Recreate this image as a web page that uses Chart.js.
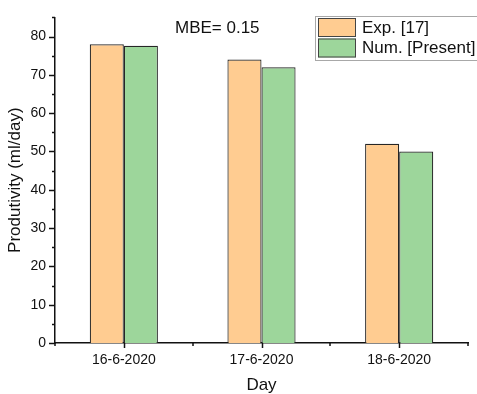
<!DOCTYPE html>
<html>
<head>
<meta charset="utf-8">
<script src="https://cdn.jsdelivr.net/npm/chart.js@4/dist/chart.umd.min.js"></script>
<style>
  html, body { margin: 0; padding: 0; background: #fff; }
  #wrap { width: 477px; height: 394px; position: relative; }
</style>
</head>
<body>
<div id="wrap"><canvas id="c" width="477" height="394"></canvas></div>
<script>
// Daily productivity: experimental vs. numerical results
const days = ['16-6-2020', '17-6-2020', '18-6-2020'];
const expValues = [78, 74, 52];
const numValues = [77.6, 72, 50];
const seriesNames = ['Exp. [17]', 'Num. [Present]'];
const yTickValues = [0, 10, 20, 30, 40, 50, 60, 70, 80];
const annotationText = 'MBE= 0.15';

const FONT = '"Liberation Sans", Arial, sans-serif';
const ORANGE = '#FFCC91';
const GREEN = '#9DD69B';
const EDGE = '#262626';
const AXIS = '#111';

// Axis tick marks (major + minor) and the boxed legend / annotation
const decorations = {
  id: 'decorations',
  afterDraw(chart) {
    const ctx = chart.ctx;
    const x = chart.scales.x, y = chart.scales.y;
    const area = chart.chartArea;
    ctx.save();
    ctx.strokeStyle = AXIS;
    ctx.lineWidth = 1.5;
    // y ticks: major every 10, minor every 5, pointing outward
    for (let v = 0; v <= y.max; v += 5) {
      const py = Math.round(y.getPixelForValue(v)) + 0.5;
      const len = v % 10 === 0 ? 6 : 3;
      ctx.beginPath();
      ctx.moveTo(area.left, py);
      ctx.lineTo(area.left - len, py);
      ctx.stroke();
    }
    // x ticks: major at category centres, minor at category boundaries
    const n = days.length;
    for (let i = 0; i < n; i++) {
      const px = Math.round(x.getPixelForValue(i)) + 0.5;
      ctx.beginPath();
      ctx.moveTo(px, area.bottom);
      ctx.lineTo(px, area.bottom + 5);
      ctx.stroke();
    }
    for (let i = 0; i <= n; i++) {
      const px = Math.round(x.getPixelForValue(i - 0.5));
      ctx.beginPath();
      ctx.moveTo(px, area.bottom);
      ctx.lineTo(px, area.bottom + 3);
      ctx.stroke();
    }

    // annotation
    ctx.fillStyle = '#111';
    ctx.font = '17px ' + FONT;
    ctx.textBaseline = 'middle';
    ctx.textAlign = 'left';
    ctx.fillText(annotationText, 175, 28);

    // legend box
    ctx.strokeStyle = '#a8a8a8';
    ctx.lineWidth = 1;
    ctx.strokeRect(315.5, 16.5, 170, 44);
    chart.data.datasets.forEach((ds, i) => {
      const top = 18 + i * 20.5;
      ctx.fillStyle = ds.backgroundColor;
      ctx.fillRect(318, top, 38, 19);
      ctx.strokeStyle = '#444';
      ctx.strokeRect(318.5, top + 0.5, 37, 18);
      ctx.fillStyle = '#111';
      ctx.fillText(ds.label, 362, top + 10);
    });
    ctx.restore();
  }
};

new Chart(document.getElementById('c'), {
  type: 'bar',
  data: {
    labels: days,
    datasets: [
      { label: seriesNames[0], data: expValues, backgroundColor: ORANGE,
        borderColor: EDGE, borderWidth: 1.2 },
      { label: seriesNames[1], data: numValues, backgroundColor: GREEN,
        borderColor: EDGE, borderWidth: 1.2 }
    ]
  },
  options: {
    responsive: false,
    animation: false,
    devicePixelRatio: 1,
    layout: { padding: { top: 10, right: 9, left: 0, bottom: 0 } },
    datasets: { bar: { barPercentage: 1.0, categoryPercentage: 0.495 } },
    plugins: { legend: { display: false }, tooltip: { enabled: false } },
    scales: {
      x: {
        offset: true,
        grid: { display: false, drawTicks: false },
        border: { display: true, color: AXIS, width: 1.5 },
        ticks: { color: '#111', font: { family: FONT, size: 14 }, padding: 9, maxRotation: 0 },
        title: { display: true, text: 'Day', color: '#111',
                 font: { family: FONT, size: 17, lineHeight: 1.0 }, padding: { top: 0, bottom: 0 } },
        afterFit(scale) { scale.height = 51; }
      },
      y: {
        min: 0,
        max: 85,
        grid: { display: false, drawTicks: false },
        border: { display: true, color: AXIS, width: 1.5 },
        ticks: { color: '#111', font: { family: FONT, size: 14 }, padding: 9, stepSize: 10 },
        afterBuildTicks(scale) { scale.ticks = yTickValues.map(v => ({ value: v })); },
        title: { display: true, text: 'Produtivity (ml/day)', color: '#111',
                 font: { family: FONT, size: 17, lineHeight: 1.0 }, padding: { top: 7, bottom: 0 } },
        afterFit(scale) { scale.width = 55; }
      }
    }
  },
  plugins: [decorations]
});
</script>
</body>
</html>
